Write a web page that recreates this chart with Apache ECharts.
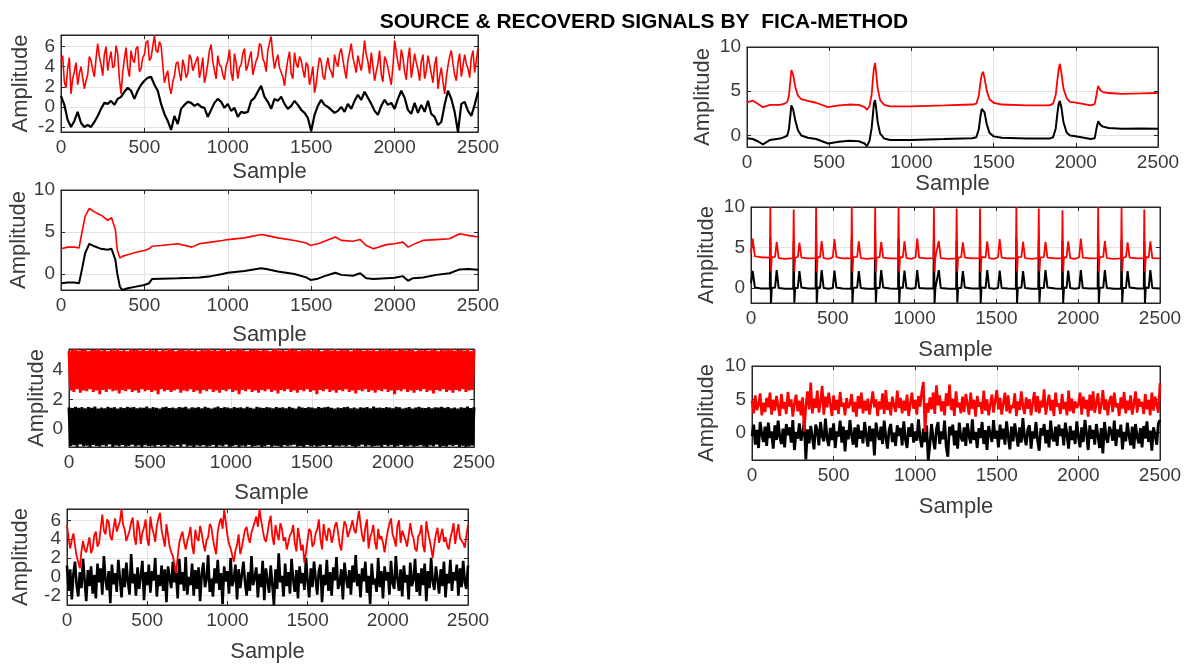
<!DOCTYPE html>
<html>
<head>
<meta charset="utf-8">
<script src="https://cdn.jsdelivr.net/npm/echarts@6.0.0/dist/echarts.min.js"></script>
<style>
html,body{margin:0;padding:0;background:#fff;}
#chart{width:1190px;height:668px;}
</style>
</head>
<body>
<div id="chart"></div>
<script>
// ---------------- DATA ----------------
const TITLE = 'SOURCE & RECOVERD SIGNALS BY  FICA-METHOD';
const X_NAME = 'Sample';
const Y_NAME = 'Amplitude';
const sampleTicks = [0, 500, 1000, 1500, 2000, 2500];
const yTicksA = [-2, 0, 2, 4, 6];
const yTicksB = [0, 5, 10];
const yTicksC = [0, 2, 4];

// Panel 1 (left, top): black step 20, red step 10
const p1BlackStep = 20;
const p1Black = [
 1.1,0.2,-1.3,-2.0,-1.4,-0.5,-1.6,-2.0,-1.8,-2.0,
 -1.5,-0.9,-0.2,0.4,0.3,0.6,0.2,0.8,1.0,1.5,
 1.9,1.6,0.8,1.6,2.2,2.6,2.9,3.0,2.2,1.6,
 0.3,-0.7,-1.4,-2.3,-0.9,-1.7,-0.2,0.2,0.5,0.4,
 0.1,0.3,0.0,-0.1,-1.0,-0.3,0.4,0.8,0.5,-0.1,
 0.3,-0.4,-0.1,-1.0,-0.5,-0.6,-0.5,0.6,0.9,1.5,
 2.1,1.0,0.5,-0.2,0.8,0.6,1.0,0.3,-0.2,0.1,
 0.6,0.2,-0.3,-0.6,-1.1,-2.4,-0.8,0.1,0.7,0.2,
 0.0,-0.3,-0.6,-0.4,0.0,-0.5,0.3,-0.2,0.6,1.2,
 0.7,1.5,0.9,0.3,-0.4,-0.8,0.1,0.7,0.2,0.4,
 -0.2,0.8,1.6,0.9,-0.3,-0.7,0.4,-0.6,0.2,-0.5,
 0.6,-0.7,-1.0,-1.8,-1.5,0.2,1.6,0.8,-0.5,-2.5,
 0.3,0.5,-0.4,-0.9,0.2,1.5];
const p1RedStep = 10;
const p1Red = [
 4.5,5.1,2.5,1.9,3.8,4.9,1.3,2.8,3.5,4.4,
 2.2,3.3,4.0,2.9,1.8,2.6,3.2,5.0,4.6,3.7,
 3.0,4.8,6.3,5.0,4.2,3.1,5.2,6.0,3.6,4.7,
 5.5,3.9,4.1,6.1,5.3,2.8,1.3,3.4,4.8,5.9,
 3.9,3.0,5.6,4.7,4.4,5.8,6.0,3.5,3.8,4.9,
 5.2,6.4,6.6,4.6,4.9,6.0,7.1,5.6,5.4,6.5,
 6.1,4.2,2.4,3.1,3.6,2.0,1.3,2.5,3.1,4.3,
 4.5,3.4,2.6,4.7,4.0,2.9,3.3,5.2,4.8,3.6,
 3.5,4.6,5.0,2.9,3.7,4.9,2.4,3.2,4.3,5.6,
 6.2,4.5,3.6,2.8,5.1,4.2,4.0,3.2,2.7,4.1,
 4.6,5.7,3.4,2.6,5.3,4.4,2.8,3.9,4.2,5.3,
 5.8,3.6,4.1,4.9,5.5,3.2,3.9,4.6,5.0,6.3,
 6.1,4.8,4.4,3.5,5.6,6.4,7.0,5.1,3.8,4.6,
 5.2,3.9,4.0,3.0,2.1,3.6,4.7,5.5,3.3,2.8,
 5.4,4.3,3.9,5.0,4.6,3.7,2.9,4.4,4.1,2.2,
 3.0,4.0,1.4,2.3,3.8,4.9,4.5,3.1,2.7,4.0,
 4.9,3.8,3.5,2.9,5.2,4.4,4.0,5.3,5.8,4.7,
 3.7,2.8,4.6,5.4,6.3,4.9,4.2,3.4,5.1,4.3,
 3.6,4.9,6.6,5.2,4.5,3.3,5.4,4.1,2.6,3.5,
 4.3,5.6,3.2,2.5,5.0,4.6,3.9,3.0,2.2,4.0,
 6.6,5.5,4.4,3.6,5.7,4.9,3.5,2.7,4.8,5.9,
 2.9,4.0,5.3,4.4,3.7,2.6,4.5,5.2,2.8,3.6,
 5.1,4.2,3.3,2.4,4.2,5.0,1.8,3.0,3.9,2.5,
 1.3,2.9,4.1,5.0,5.6,4.3,3.2,2.6,4.4,5.3,
 3.0,4.1,5.2,4.3,3.8,2.9,4.9,5.6,3.4,4.6,
 5.9];

// Panel 2 (left, 2nd)
const p2Samples = [0,40,80,108,125,145,170,200,240,280,303,326,337,353,367,400,450,500,528,545,
 600,700,785,830,900,968,1000,1100,1200,1230,1300,1400,1470,1496,1540,1580,1645,1680,1750,1794,
 1830,1874,1950,2000,2050,2081,2110,2170,2250,2330,2390,2440,2500];
const p2Black = [-1.1,-1.0,-1.0,-1.1,0.5,2.5,3.6,3.3,3.0,2.9,3.0,1.7,0.1,-1.5,-1.9,-1.7,-1.5,-1.3,-1.1,-0.6,
 -0.55,-0.5,-0.45,-0.4,-0.25,0.0,0.15,0.35,0.7,0.6,0.3,0.0,-0.4,-0.7,-0.55,-0.25,0.15,-0.1,-0.2,0.1,
 -0.5,-0.6,-0.5,-0.45,-0.25,-0.8,-0.5,-0.4,-0.1,0.1,0.55,0.6,0.5];
const p2Red = [3.0,3.2,3.2,3.1,4.9,6.9,7.8,7.4,7.0,6.4,6.7,5.3,2.9,1.9,2.1,2.3,2.6,2.8,3.0,3.3,
 3.4,3.6,3.2,3.6,3.8,4.0,4.1,4.3,4.7,4.6,4.3,4.0,3.7,3.4,3.6,3.9,4.4,4.0,3.9,4.1,
 3.4,3.0,3.5,3.6,3.8,3.2,3.5,4.0,4.1,4.2,4.8,4.6,4.4];

// Panel 3 (left, 3rd): sample step 10
const p3Step = 10;
const p3Black = [
 1.45,-1.2,1.4,-1.15,1.48,-1.25,1.42,-1.1,1.46,-1.22,
 1.38,-1.18,1.47,-1.27,1.41,-1.12,1.5,-1.2,1.36,-1.24,
 1.44,-1.15,1.39,-1.22,1.48,-1.1,1.42,-1.26,1.46,-1.17,
 1.37,-1.21,1.45,-1.13,1.4,-1.25,1.49,-1.19,1.43,-1.11,
 1.47,-1.23,1.38,-1.16,1.44,-1.27,1.41,-1.14,1.5,-1.2,
 1.39,-1.18,1.46,-1.24,1.42,-1.12,1.37,-1.22,1.45,-1.15,
 1.48,-1.26,1.4,-1.17,1.44,-1.21,1.38,-1.13,1.47,-1.25,
 1.43,-1.1,1.49,-1.23,1.36,-1.18,1.45,-1.27,1.41,-1.16,
 1.46,-1.21,1.39,-1.14,1.48,-1.24,1.42,-1.19,1.37,-1.12,
 1.44,-1.26,1.5,-1.17,1.4,-1.22,1.46,-1.11,1.43,-1.25,
 1.38,-1.2,1.47,-1.15,1.41,-1.27,1.45,-1.18,1.39,-1.23,
 1.48,-1.13,1.42,-1.24,1.36,-1.19,1.49,-1.16,1.44,-1.26,
 1.4,-1.21,1.46,-1.12,1.43,-1.25,1.38,-1.18,1.47,-1.2,
 1.41,-1.27,1.45,-1.14,1.39,-1.22,1.48,-1.17,1.42,-1.11,
 1.37,-1.24,1.5,-1.19,1.44,-1.26,1.4,-1.13,1.46,-1.21,
 1.43,-1.16,1.38,-1.25,1.47,-1.2,1.41,-1.15,1.45,-1.23,
 1.49,-1.12,1.42,-1.27,1.36,-1.18,1.44,-1.22,1.4,-1.17,
 1.46,-1.24,1.48,-1.14,1.39,-1.21,1.43,-1.26,1.37,-1.19,
 1.45,-1.11,1.41,-1.23,1.47,-1.16,1.38,-1.25,1.5,-1.2,
 1.42,-1.18,1.44,-1.27,1.4,-1.13,1.46,-1.22,1.43,-1.15,
 1.39,-1.26,1.48,-1.19,1.45,-1.12,1.37,-1.24,1.41,-1.21,
 1.47,-1.17,1.36,-1.25,1.44,-1.2,1.49,-1.14,1.42,-1.23,
 1.4,-1.27,1.46,-1.16,1.38,-1.22,1.45,-1.11,1.43,-1.26,
 1.48,-1.19,1.41,-1.24,1.47,-1.15,1.39,-1.2,1.44,-1.13,
 1.37,-1.25,1.45,-1.18,1.42,-1.27,1.5,-1.21,1.4,-1.16,
 1.46];
const p3Red = [
 5.3,2.6,5.4,2.5,5.45,2.7,5.35,2.45,5.4,2.6,
 5.42,2.55,5.3,2.7,5.4,2.5,5.38,2.6,5.45,2.35,
 5.35,2.65,5.4,2.5,5.3,2.7,5.42,2.55,5.36,2.6,
 5.44,2.4,5.33,2.65,5.4,2.55,5.3,2.7,5.45,2.5,
 5.38,2.6,5.42,2.45,5.35,2.7,5.4,2.55,5.32,2.65,
 5.45,2.5,5.36,2.6,5.4,2.35,5.3,2.7,5.42,2.55,
 5.35,2.65,5.44,2.5,5.38,2.6,5.3,2.7,5.4,2.45,
 5.42,2.6,5.35,2.55,5.45,2.7,5.33,2.5,5.4,2.6,
 5.3,2.4,5.42,2.65,5.36,2.55,5.44,2.7,5.35,2.5,
 5.4,2.6,5.32,2.45,5.45,2.65,5.38,2.55,5.3,2.7,
 5.42,2.5,5.35,2.6,5.4,2.35,5.44,2.65,5.36,2.55,
 5.3,2.7,5.42,2.5,5.38,2.6,5.45,2.45,5.33,2.65,
 5.4,2.55,5.36,2.7,5.3,2.5,5.42,2.6,5.44,2.4,
 5.35,2.65,5.4,2.55,5.32,2.7,5.45,2.5,5.38,2.6,
 5.42,2.45,5.3,2.65,5.4,2.55,5.36,2.7,5.44,2.5,
 5.33,2.6,5.45,2.35,5.38,2.65,5.3,2.55,5.42,2.7,
 5.4,2.5,5.35,2.6,5.44,2.45,5.32,2.65,5.4,2.55,
 5.36,2.7,5.42,2.5,5.3,2.6,5.45,2.4,5.38,2.65,
 5.4,2.55,5.33,2.7,5.42,2.5,5.35,2.6,5.44,2.45,
 5.3,2.65,5.4,2.55,5.36,2.7,5.45,2.5,5.38,2.6,
 5.42,2.35,5.32,2.65,5.4,2.55,5.44,2.7,5.35,2.5,
 5.38,2.6,5.45,2.45,5.3,2.65,5.42,2.55,5.36,2.7,
 5.4,2.5,5.33,2.6,5.44,2.4,5.38,2.65,5.3,2.55,
 5.42,2.7,5.36,2.5,5.4,2.6,5.45,2.45,5.32,2.65,
 5.38,2.55,5.4,2.7,5.35,2.5,5.44,2.6,5.3,2.65,
 5.4];

// Panel 4 (left, bottom): step 10
const p4Step = 10;
const p4Black = [
 1.2,-1.5,0.8,-2.4,0.3,1.6,-0.9,-2.1,0.5,-1.2,
 1.9,-0.4,-2.6,0.7,-1.0,1.1,-1.8,0.2,-2.3,1.4,
 -0.6,0.9,-1.9,2.2,-0.3,-1.4,0.6,-2.8,1.3,-0.8,
 0.4,-1.6,1.8,-0.2,-2.2,0.9,-1.1,1.5,-0.5,-1.9,
 2.4,-0.7,0.3,-2.0,1.0,-1.3,0.1,1.7,-2.5,0.5,
 -0.9,1.3,-1.7,0.6,-0.4,2.0,-2.1,0.2,-1.0,1.2,
 -1.5,0.8,-2.7,1.1,-0.1,-1.2,1.6,-0.6,0.4,-2.3,
 1.9,-0.8,0.5,-1.5,2.1,-1.9,0.0,-0.9,1.4,-2.0,
 0.7,-1.3,1.0,-2.6,0.3,1.5,-1.1,-0.3,2.3,-1.6,
 -0.2,-2.1,0.9,-0.7,1.8,-1.4,0.4,-2.9,1.1,-0.5,
 0.6,-1.8,2.0,-1.0,-0.3,1.3,-2.4,0.8,-1.2,0.2,
 1.6,-0.6,-2.0,0.5,-1.5,2.2,-0.9,-0.1,1.0,-2.2,
 0.3,-1.1,1.7,-2.5,0.9,-0.4,-1.7,1.2,-0.8,-3.0,
 0.8,-1.3,2.5,-0.6,0.1,-2.1,1.4,-1.0,0.5,-1.8,
 1.9,-0.3,-1.6,0.7,-2.3,1.1,-0.7,0.4,-1.4,2.0,
 -0.5,-2.2,0.9,-1.1,1.6,-0.2,-1.9,0.6,1.3,-2.7,
 0.2,-0.9,1.8,-1.5,0.5,-2.0,1.0,-0.4,2.1,-1.3,
 -0.7,0.8,-2.4,1.5,-0.1,-1.2,0.7,-1.9,1.2,-0.6,
 2.3,-1.0,0.3,-2.2,0.9,-0.5,1.6,-1.7,0.1,-2.9,
 1.4,-0.8,-0.2,-1.6,2.0,-1.1,0.6,-2.3,1.1,-0.4,
 0.5,-1.9,1.7,-0.7,-1.3,2.2,-0.2,-1.5,0.8,-2.1,
 1.2,-0.6,0.2,-2.4,1.5,-1.0,-0.3,1.9,-1.6,0.4,
 -2.0,0.9,-0.9,1.4,-2.6,0.6,-1.2,2.0,-0.5,-1.4,
 1.1,-0.3,-1.8,0.8,-1.0,1.6,-2.2,0.3,-0.7,1.8,
 -1.5,0.5,-0.4,1.3,-2.0,0.9,-1.1,1.7,-0.6,-1.3,
 1.2];
const p4Red = [
 5.5,4.1,3.0,3.9,4.6,3.3,2.2,1.6,0.9,2.7,
 3.8,2.9,2.6,3.4,4.2,2.5,3.0,4.4,4.8,3.2,
 3.6,5.1,6.6,4.9,4.5,6.1,5.8,4.3,3.9,5.2,
 6.2,4.8,4.6,5.9,7.2,5.5,5.0,3.8,3.6,4.9,
 5.8,6.3,4.2,3.4,6.0,5.1,3.5,4.7,5.2,6.1,
 4.0,3.3,6.4,5.2,4.6,3.7,5.4,6.2,6.8,4.9,
 4.1,3.2,5.6,4.4,3.2,2.6,2.2,1.3,0.4,2.1,
 3.6,4.3,4.8,3.7,2.9,3.8,4.4,5.3,3.3,2.4,
 5.0,4.1,3.8,5.4,4.6,3.5,2.7,3.9,4.2,5.6,
 5.3,4.0,3.1,2.4,4.8,5.7,6.2,5.1,7.1,5.8,
 4.4,3.5,3.0,2.3,1.6,2.8,3.4,4.5,2.4,3.1,
 4.1,5.0,5.3,4.2,3.6,4.7,4.9,5.8,6.4,5.3,
 7.2,6.0,5.0,4.1,3.7,4.6,5.8,6.5,4.3,3.4,
 5.5,4.6,3.9,5.7,5.1,3.8,4.2,2.9,3.1,4.4,
 4.7,5.5,3.6,2.7,5.2,4.1,2.8,3.4,1.5,2.6,
 3.9,5.1,4.8,3.2,3.5,4.6,5.0,6.1,4.0,2.9,
 5.6,4.5,3.8,5.2,4.9,3.6,4.3,5.4,5.8,4.7,
 3.4,2.8,4.7,5.9,5.5,4.2,4.1,5.3,6.0,5.0,
 4.6,5.9,7.0,5.6,4.4,3.7,5.3,6.1,3.0,4.2,
 4.7,5.5,3.7,2.9,5.1,4.0,4.3,3.6,2.6,3.9,
 4.9,5.6,6.2,4.5,4.0,3.2,5.4,6.0,3.6,4.9,
 4.8,3.9,3.2,4.4,5.7,4.6,4.1,3.0,2.7,4.3,
 4.6,5.5,3.3,2.6,5.9,4.8,4.0,3.1,2.0,3.5,
 4.5,5.2,3.6,4.4,5.1,3.7,4.2,3.3,2.9,4.1,
 4.8,5.7,3.5,4.6,5.6,4.1,4.3,3.6,3.1,4.4,
 5.5];

// Panel 5 (right, top)
const p5Samples = [0,35,65,97,140,200,230,245,255,262,270,280,295,310,330,370,420,493,560,620,
 680,715,730,745,758,767,772,779,786,795,810,835,870,1000,1200,1370,1395,1410,1420,1428,
 1436,1445,1458,1475,1500,1550,1700,1840,1862,1878,1888,1896,1903,1912,1925,1945,1965,1990,2050,2090,
 2115,2126,2136,2150,2165,2200,2280,2400,2500];
const p5Black = [-0.3,-0.4,-0.65,-1.0,-0.5,-0.35,-0.15,0.0,0.7,2.0,
 3.4,3.0,1.6,0.6,0.0,-0.25,-0.4,-0.9,-0.7,-0.6,
 -0.65,-0.9,-1.2,-0.6,0.8,2.6,3.6,4.0,3.0,1.5,
 0.2,-0.35,-0.5,-0.5,-0.4,-0.3,-0.2,0.7,2.2,3.0,
 3.2,2.6,1.3,0.3,-0.1,-0.25,-0.35,-0.35,-0.2,0.8,
 2.5,3.6,3.9,3.2,1.5,0.3,0.0,-0.05,-0.25,-0.4,
 -0.3,0.8,1.6,1.2,1.0,0.85,0.75,0.78,0.75];
const p5Red = [3.75,3.95,3.6,3.2,3.45,3.45,3.6,3.8,4.5,5.8,
 7.4,6.9,5.4,4.5,4.1,3.9,3.7,3.2,3.4,3.5,
 3.45,3.2,2.9,3.3,4.6,6.6,7.6,8.2,7.0,5.3,
 4.0,3.45,3.3,3.3,3.4,3.5,3.6,4.5,6.0,6.9,
 7.2,6.5,5.1,4.1,3.7,3.5,3.4,3.4,3.6,4.6,
 6.3,7.5,8.1,7.1,5.3,4.2,3.8,3.75,3.55,3.4,
 3.55,4.6,5.6,5.1,4.9,4.8,4.7,4.75,4.8];

// Panel 6 (right, middle)
const p6Samples = [
 0,10,24,60,
 115,118,122,127,147,157,169,210,
 258,261,265,270,286,296,308,350,
 395,398,402,407,422,432,444,475,500,510,522,560,
 613,616,620,625,649,659,671,710,
 756,759,763,768,786,796,808,850,
 899,902,906,911,928,938,950,980,1006,1016,1028,1070,
 1115,1118,1122,1127,1138,1148,1160,1210,
 1254,1257,1261,1266,1285,1295,1307,1350,
 1397,1400,1404,1409,1434,1444,1456,1485,1510,1520,1532,1570,
 1619,1622,1626,1631,1653,1663,1675,1715,
 1756,1759,1763,1768,1790,1800,1812,1860,
 1901,1904,1908,1913,1929,1939,1951,1980,2006,2016,2028,2070,
 2119,2122,2126,2131,2153,2163,2175,2220,
 2262,2265,2269,2274,2292,2302,2314,2360,
 2401,2404,2408,2413,2431,2441,2453,2500];
const p6Black = [
 0.6,2.1,0.05,-0.05,
 -0.05,6.1,-1.85,0.0,0.05,2.2,0.0,-0.1,
 -0.1,5.8,-1.8,0.0,0.0,2.1,0.05,-0.05,
 -0.05,6.0,-1.85,0.05,0.0,2.2,0.0,-0.1,0.0,2.15,0.05,-0.05,
 -0.1,6.1,-1.85,0.0,0.05,2.1,0.0,-0.1,
 -0.05,5.9,-1.8,0.0,0.0,2.2,0.05,-0.05,
 -0.1,6.1,-1.85,0.05,0.0,2.15,0.0,-0.1,0.0,2.2,0.0,-0.05,
 -0.05,6.1,-1.85,0.0,0.05,2.2,0.0,-0.1,
 -0.1,5.9,-1.8,0.0,0.0,2.1,0.05,-0.05,
 -0.05,5.9,-1.85,0.05,0.0,2.2,0.0,-0.1,0.0,2.15,0.0,-0.05,
 -0.1,6.1,-1.85,0.0,0.05,2.1,0.0,-0.1,
 -0.05,5.9,-1.8,0.0,0.0,2.2,0.05,-0.05,
 -0.1,5.8,-1.85,0.05,0.0,2.15,0.0,-0.1,0.0,2.2,0.0,-0.05,
 -0.05,6.1,-1.85,0.0,0.05,2.2,0.0,-0.1,
 -0.1,6.0,-1.8,0.0,0.0,2.1,0.05,-0.05,
 -0.05,5.8,-1.85,0.05,0.0,2.2,0.0,-0.05];
const p6Red = [
 4.3,6.1,3.9,3.8,
 3.75,10.0,2.0,3.8,3.85,5.7,3.7,3.6,
 3.7,9.7,2.05,3.75,3.8,5.6,3.75,3.65,
 3.7,9.9,2.0,3.8,3.8,5.8,3.7,3.6,3.8,6.05,3.8,3.65,
 3.65,10.0,2.0,3.8,3.85,5.75,3.7,3.6,
 3.7,9.9,2.05,3.75,3.8,5.7,3.75,3.65,
 3.65,10.0,2.0,3.8,3.8,5.75,3.7,3.6,3.8,6.1,3.75,3.65,
 3.7,10.0,2.0,3.8,3.85,5.8,3.7,3.6,
 3.65,9.8,2.05,3.75,3.8,5.65,3.75,3.65,
 3.7,9.8,2.0,3.8,3.8,5.75,3.7,3.6,3.8,6.05,3.75,3.65,
 3.65,10.0,2.0,3.8,3.85,5.7,3.7,3.6,
 3.7,9.8,2.05,3.75,3.8,5.7,3.75,3.65,
 3.65,9.6,2.0,3.8,3.8,5.75,3.7,3.6,3.8,6.1,3.75,3.65,
 3.7,10.0,2.0,3.8,3.85,5.8,3.7,3.6,
 3.65,9.9,2.05,3.75,3.8,5.65,3.75,3.65,
 3.7,9.7,2.0,3.8,3.8,5.75,3.7,3.65];

// Panel 7 (right, bottom): step 10
const p7Step = 10;
const p7Black = [
 -0.5,1.2,-1.8,0.4,-2.3,1.6,-0.2,-1.4,0.9,-2.0,
 1.5,-0.8,0.2,-2.4,1.1,-1.1,1.8,-0.6,-1.7,0.6,
 -2.2,1.3,-0.4,0.8,-1.5,1.9,-2.6,0.1,-0.9,1.4,
 -1.2,-0.1,1.7,-4.0,0.5,-1.6,1.0,-0.7,-2.5,1.2,
 0.3,-1.9,1.6,-0.5,-1.3,2.1,-0.8,-2.0,0.7,-1.1,
 1.4,-2.3,0.2,-0.6,1.8,-1.5,0.9,-2.8,0.4,-1.0,
 1.9,-0.3,-1.8,0.8,-2.2,1.2,-0.9,0.3,-1.6,1.6,
 -0.4,-2.1,1.0,-1.3,0.6,-3.4,1.5,-0.2,-1.1,0.9,
 -1.7,1.8,-0.7,-2.4,0.4,1.3,-1.4,0.0,-2.0,1.1,
 -0.5,0.7,-1.9,1.7,-1.0,-2.3,0.8,-0.6,1.4,-1.5,
 0.2,-1.2,2.0,-0.8,-2.2,0.6,-1.4,1.1,-4.1,-1.8,
 1.3,-0.9,-2.5,0.5,1.6,-1.7,0.2,-1.0,1.8,-2.1,
 -3.6,0.9,-0.4,1.2,-1.9,0.3,-2.4,1.5,-0.7,-1.3,
 0.8,-2.0,1.4,-0.5,-1.6,2.0,-1.1,0.1,-2.3,0.7,
 -0.8,1.6,-1.7,0.4,-2.6,1.0,-0.2,-1.4,1.9,-0.9,
 0.3,-2.2,1.2,-1.0,0.6,-1.8,1.7,-0.6,-2.5,0.9,
 -1.3,1.4,-0.3,-2.1,0.8,-1.5,2.2,-0.7,-1.9,0.5,
 1.1,-2.4,0.2,-0.9,1.6,-1.2,-2.7,0.7,-0.4,1.3,
 -1.6,0.4,-2.2,1.8,-0.8,-1.3,0.9,-2.0,1.2,-0.5,
 0.6,-1.9,1.5,-0.3,-2.4,1.0,-1.1,0.3,-1.7,1.7,
 -0.6,-2.2,0.8,-1.4,1.9,-0.2,-2.6,1.1,-0.9,0.4,
 -1.8,1.3,-0.5,-2.3,0.7,-3.1,1.6,-0.8,-1.5,0.9,
 0.2,-1.2,1.8,-2.0,0.5,-0.7,1.2,-2.5,0.1,-1.3,
 1.5,-0.4,-1.9,0.9,-2.4,1.3,-0.6,-1.6,0.7,-2.2,
 1.0,-0.9,1.7,-1.4,0.3,-2.7,0.8,-0.3,-1.8,1.4,
 1.9];
const p7Red = [
 4.8,2.9,5.6,3.4,4.2,5.9,2.6,4.5,3.1,5.2,
 3.8,6.0,2.7,4.9,3.3,5.5,4.0,2.5,5.8,3.6,
 4.6,2.8,6.1,3.9,5.0,2.4,4.4,5.7,3.2,4.8,
 2.6,5.3,0.2,4.1,6.2,3.5,7.5,2.9,5.1,3.7,
 6.3,3.0,4.7,7.0,2.7,5.4,3.8,6.0,4.3,2.5,
 5.6,3.4,4.9,2.8,6.1,3.9,4.5,2.6,5.2,3.7,
 4.2,5.8,3.1,4.6,2.4,5.5,3.6,6.0,2.9,4.8,
 3.3,5.1,2.7,4.4,6.2,3.8,5.0,2.5,4.7,3.5,
 5.9,2.8,6.4,3.4,4.6,2.6,5.4,4.0,3.1,6.3,
 3.7,5.2,2.9,4.8,3.3,5.7,2.5,4.3,6.0,3.6,
 4.9,2.7,5.5,3.9,6.1,7.6,0.1,4.4,3.0,5.3,
 3.5,6.0,2.8,7.1,4.1,5.6,3.2,4.7,2.6,5.9,
 4.0,7.2,3.4,5.1,2.5,6.2,3.8,4.5,2.9,5.4,
 3.1,5.8,4.3,2.7,6.0,3.6,4.9,2.4,5.5,3.9,
 4.6,2.8,6.3,3.3,5.0,2.6,4.2,5.7,3.0,4.8,
 6.4,3.5,5.2,2.7,4.4,6.0,3.2,5.6,2.9,4.1,
 3.7,5.9,2.5,4.7,3.4,6.2,4.0,2.8,5.3,3.6,
 5.0,2.6,4.5,6.1,3.1,5.5,2.9,4.8,3.8,6.5,
 2.7,4.3,5.7,3.3,4.9,2.5,6.0,3.9,4.4,2.8,
 5.8,3.5,4.6,2.6,6.3,3.2,5.1,2.9,4.7,3.7,
 4.2,6.0,2.7,5.4,3.6,4.9,2.4,5.7,3.3,6.2,
 3.0,4.5,5.9,2.8,4.1,6.4,3.4,5.0,2.6,4.7,
 5.5,3.1,6.0,3.8,4.4,2.5,5.3,3.6,6.1,2.9,
 4.8,3.4,5.6,2.7,4.3,6.2,3.0,5.1,3.9,4.6,
 2.8,5.8,3.5,4.9,2.6,6.0,3.3,5.4,4.1,3.0,
 7.4];

// ---------------- BUILD ----------------
function byStep(step, ys) { return ys.map((v, i) => [i * step, v]); }
function bySamples(xs, ys) { return ys.map((v, i) => [xs[i], v]); }
const plain = v => String(v);

const FONT = "'Liberation Sans', Arial, Helvetica, sans-serif";
const AX = '#262626';
const TXT = '#3a3a3a';
const GRIDC = '#e2e2e2';
const TICK_FS = 19;
const NAME_FS = 22;

const panels = [
  {left:61, top:35, width:417, height:97, ymin:-2.5, ymax:7.15, yt:yTicksA, xg:29, yg:29, bw:2.2, rw:1.6,
   black:byStep(p1BlackStep,p1Black), red:byStep(p1RedStep,p1Red)},
  {left:61, top:190, width:417, height:100, ymin:-1.9, ymax:10, yt:yTicksB, xg:34, yg:29, bw:2, rw:1.6,
   black:bySamples(p2Samples,p2Black), red:bySamples(p2Samples,p2Red)},
  {left:69, top:349, width:405, height:98, ymin:-1.27, ymax:5.45, yt:yTicksC, xg:35, yg:21, bw:3, rw:3,
   black:byStep(p3Step,p3Black), red:byStep(p3Step,p3Red)},
  {left:67, top:509, width:401, height:96, ymin:-3.0, ymax:7.2, yt:yTicksA, xg:36, yg:35, bw:2.6, rw:1.8,
   black:byStep(p4Step,p4Black), red:byStep(p4Step,p4Red)},
  {left:747, top:47, width:411, height:100, ymin:-1.3, ymax:10, yt:yTicksB, xg:24, yg:33, bw:2, rw:1.8,
   black:bySamples(p5Samples,p5Black), red:bySamples(p5Samples,p5Red)},
  {left:751, top:207, width:409, height:96, ymin:-1.85, ymax:10, yt:yTicksB, xg:36, yg:33, bw:2, rw:1.8,
   black:bySamples(p6Samples,p6Black), red:bySamples(p6Samples,p6Red)},
  {left:752, top:366, width:408, height:94, ymin:-4.1, ymax:10, yt:yTicksB, xg:36, yg:34, bw:2.8, rw:2.6,
   black:byStep(p7Step,p7Black), red:byStep(p7Step,p7Red)}
];

const grid = [], xAxis = [], yAxis = [], series = [];
panels.forEach((p, i) => {
  grid.push({left:p.left, top:p.top, width:p.width, height:p.height,
             show:true, borderColor:AX, borderWidth:1, backgroundColor:'#fff'});
  xAxis.push({type:'value', gridIndex:i, position:'bottom', min:0, max:2500, interval:500,
    axisLine:{show:true, onZero:false, lineStyle:{color:AX, width:1}},
    axisTick:{show:true, inside:true, length:4, lineStyle:{color:AX}},
    axisLabel:{show:true, fontSize:TICK_FS, color:TXT, fontFamily:FONT, margin:6,
               customValues:sampleTicks, formatter:plain},
    splitLine:{show:true, lineStyle:{color:GRIDC, width:1}},
    name:X_NAME, nameLocation:'middle', nameGap:p.xg,
    nameTextStyle:{fontSize:NAME_FS, color:TXT, fontFamily:FONT}});
  xAxis.push({type:'value', gridIndex:i, position:'top', min:0, max:2500, interval:500,
    axisLine:{show:true, onZero:false, lineStyle:{color:AX, width:1}},
    axisTick:{show:true, inside:true, length:4, lineStyle:{color:AX}},
    axisLabel:{show:false}, splitLine:{show:false}});
  yAxis.push({type:'value', gridIndex:i, position:'left', min:p.ymin, max:p.ymax,
    axisLine:{show:true, onZero:false, lineStyle:{color:AX, width:1}},
    axisTick:{show:true, inside:true, length:4, lineStyle:{color:AX}, customValues:p.yt},
    axisLabel:{show:true, fontSize:TICK_FS, color:TXT, fontFamily:FONT, margin:6,
               customValues:p.yt, formatter:plain},
    splitLine:{show:true, lineStyle:{color:GRIDC, width:1}},
    name:Y_NAME, nameLocation:'middle', nameGap:p.yg,
    nameTextStyle:{fontSize:NAME_FS, color:TXT, fontFamily:FONT}});
  yAxis.push({type:'value', gridIndex:i, position:'right', min:p.ymin, max:p.ymax,
    axisLine:{show:true, onZero:false, lineStyle:{color:AX, width:1}},
    axisTick:{show:true, inside:true, length:4, lineStyle:{color:AX}, customValues:p.yt},
    axisLabel:{show:false}, splitLine:{show:false}});
  series.push({type:'line', xAxisIndex:2*i, yAxisIndex:2*i, data:p.black,
    showSymbol:false, symbol:'none', silent:true, animation:false, clip:true,
    lineStyle:{color:'#000000', width:p.bw}});
  series.push({type:'line', xAxisIndex:2*i, yAxisIndex:2*i, data:p.red,
    showSymbol:false, symbol:'none', silent:true, animation:false, clip:true,
    lineStyle:{color:'#ff0000', width:p.rw}});
});

const chart = echarts.init(document.getElementById('chart'), null, {renderer:'canvas'});
chart.setOption({
  backgroundColor:'#ffffff',
  animation:false,
  title:{text:TITLE, left:639, top:7, textAlign:'center',
         textStyle:{fontSize:21, fontWeight:'bold', color:'#000', fontFamily:FONT}},
  grid, xAxis, yAxis, series
});
</script>
</body>
</html>
